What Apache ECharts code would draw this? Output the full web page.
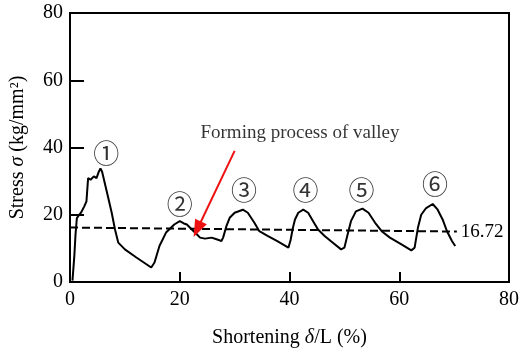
<!DOCTYPE html>
<html><head><meta charset="utf-8">
<script src="https://cdn.jsdelivr.net/npm/echarts@6/dist/echarts.min.js"></script>
<style>html,body{margin:0;padding:0;background:#fff}#c{width:522px;height:353px}</style>
</head><body><div id="c"></div>
<script>
// Stress-shortening curve
var shortening = [0.45,0.8,1.0,1.25,1.6,2.0,2.6,3.0,3.3,3.75,4.35,4.83,5.25,5.55,5.85,6.7,7.6,8.2,8.8,10.0,12.1,14.8,15.4,16.3,17.5,19.0,20.0,20.75,21.3,22.2,23.1,23.7,24.6,25.8,26.7,27.6,27.9,28.5,29.1,30.0,31.5,32.4,33.6,34.5,36.0,37.7,39.8,40.2,40.6,41.0,41.6,42.5,43.4,44.3,45.2,46.4,47.9,49.4,50.0,50.6,51.2,52.1,53.3,54.4,55.6,56.8,58.3,60.4,62.2,62.8,63.4,64.0,64.9,66.1,67.0,67.9,68.7,69.6,70.2];
var stress = [0.4,8,14,19,19.8,20.6,22.5,24,30.9,30.4,31.4,30.9,32.8,33.8,32.8,26.9,20.6,15.6,11.7,9.7,7.3,4.3,5.8,10.7,14.7,17.1,18.1,17.4,17.1,15.6,14.2,13.2,12.9,13.2,12.7,12.2,13.2,16.6,19.1,20.6,21.5,20.6,17.6,15.1,13.7,12.2,10.2,12.5,16.0,18.6,20.6,21.5,20.6,18.1,15.6,13.7,11.7,9.7,10.2,14.2,18.1,21.0,21.8,20.6,17.6,15.1,13.2,11.2,9.4,10.2,16.1,20.0,22.0,23.2,21.5,18.6,15.1,12.2,10.7];
// Mean stress dashed line
var meanX = [0, 70.5];
var meanY = [16.2, 15.0];
var meanLabel = '16.72';
// Peak labels
var peakLabels = ['①','②','③','④','⑤','⑥'];
var xTicks = [0,20,40,60,80];
var yTicks = [0,20,40,60,80];
var annotationText = 'Forming process of valley';

var peakLabelPos = [[6.6,38.3],[20.0,23.3],[31.7,27.4],[42.9,27.4],[53.1,27.4],[66.5,29.2]];

var chart = echarts.init(document.getElementById('c'), null, {renderer:'canvas'});
var serif = '"Liberation Serif","Times New Roman",serif';
var curve = shortening.map(function(x,i){return [x, stress[i]];});
var mean = meanX.map(function(x,i){return [x, meanY[i]];});

chart.setOption({
  animation:false,
  backgroundColor:'#fff',
  grid:{left:69,right:6,top:13,bottom:70,show:true,borderColor:'#000',borderWidth:2,backgroundColor:'transparent'},
  xAxis:{type:'value',min:xTicks[0],max:xTicks[xTicks.length-1],interval:20,
    name:'{a|Shortening }{i|δ}{a|/L (%)}',nameLocation:'middle',nameGap:46,
    nameTextStyle:{rich:{a:{fontFamily:serif,fontSize:20,color:'#000'},i:{fontFamily:serif,fontSize:20,fontStyle:'italic',color:'#000'}}},
    axisLine:{show:true,lineStyle:{color:'#000',width:2}},
    axisTick:{show:true,inside:true,length:10,lineStyle:{color:'#000',width:2}},
    axisLabel:{fontFamily:serif,fontSize:20,color:'#000',margin:8},
    splitLine:{show:false}},
  yAxis:{type:'value',min:yTicks[0],max:yTicks[yTicks.length-1],interval:20,
    name:'{a|Stress }{i|σ}{a| (kg/mm²)}',nameLocation:'middle',nameGap:42,nameRotate:90,
    nameTextStyle:{rich:{a:{fontFamily:serif,fontSize:20,color:'#000'},i:{fontFamily:serif,fontSize:20,fontStyle:'italic',color:'#000'}}},
    axisLine:{show:true,lineStyle:{color:'#000',width:2}},
    axisTick:{show:true,inside:true,length:14,lineStyle:{color:'#000',width:2}},
    axisLabel:{fontFamily:serif,fontSize:20,color:'#000',margin:7},
    splitLine:{show:false}},
  series:[
    {type:'line',data:curve,showSymbol:false,symbol:'none',lineStyle:{color:'#000',width:2},z:3},
    {type:'line',data:mean,showSymbol:false,symbol:'none',lineStyle:{color:'#000',width:2,type:[8,4]},z:2,
      endLabel:{show:true,formatter:meanLabel,fontFamily:serif,fontSize:19,color:'#000',distance:4}},
    {type:'scatter',symbolSize:0,z:4,
      data:peakLabels.map(function(t,i){return {value:peakLabelPos[i],name:t};}),
      label:{show:true,position:'inside',formatter:'{b}',fontFamily:'"Noto Sans CJK JP"',fontSize:26,color:'#000'}},
    {type:'scatter',symbolSize:0,z:4,data:[{value:[41.9,44.2],name:annotationText}],
      label:{show:true,position:'inside',formatter:'{b}',fontFamily:serif,fontSize:19,color:'#000'}},
    {type:'line',data:[],z:5,
      markLine:{silent:true,symbol:['none','triangle'],symbolSize:[13,17],animation:false,
        label:{show:false},lineStyle:{color:'#ee1111',width:2,type:'solid'},
        data:[[{coord:[30.0,39.0]},{coord:[23.2,15.7]}]]}}
  ]
});
</script></body></html>
